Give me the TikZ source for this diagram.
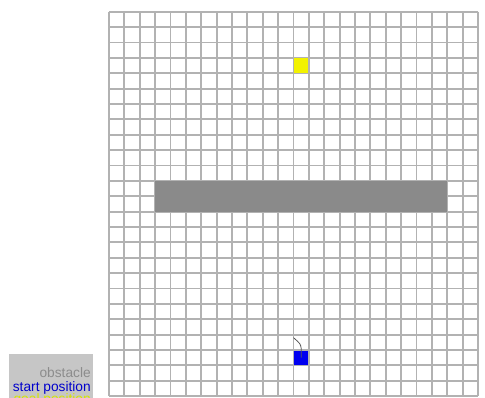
\documentclass[tikz,border=0pt]{standalone}
\usepackage{fontspec}
\setsansfont{Liberation Sans}
\usetikzlibrary{positioning}
\definecolor{gridgray}{HTML}{B2B2B2}
\definecolor{obstgray}{HTML}{8A8A8A}
\definecolor{boxgray}{HTML}{C6C6C6}
\definecolor{startblue}{HTML}{0000F0}
\definecolor{goalyellow}{HTML}{F2F200}
\definecolor{legyellow}{HTML}{D8E400}
\begin{document}
\begin{tikzpicture}[x=11.53pt,y=-11.53pt,
  cell/.style={inner sep=0pt,minimum size=10.6pt,draw=none},
  gridline/.style={gridgray,line width=1.4pt},
  legtext/.style={font=\sffamily\fontsize{10.3}{12}\selectfont,inner sep=0pt,anchor=base east}]
\useasboundingbox (-7.089,-0.761) rectangle (24.455,25.06);
\clip (-7.089,-0.761) rectangle (24.455,25.06);

\foreach \i in {0,...,24} \draw[gridline] (\i,0) -- (\i,25);
\foreach \j in {0,...,25} \draw[gridline] (0,\j) -- (24,\j);
\fill[obstgray] (3,11) rectangle (22,13);

\node[cell,fill=goalyellow] (goal) at (12.5,3.5) {};
\node[cell,fill=startblue] (start) at (12.5,22.5) {};
\coordinate (head) at (12.0,21.2);
\draw[black!65,line width=0.6pt] (start.center) -- (12.5,21.9) .. controls (12.45,21.6) .. (head);

\fill[boxgray] (-6.5,22.26) rectangle (-1.04,26);
\node[legtext,text=black!45] (lobst) at (-1.17,23.8) {obstacle};
\node[legtext,text=startblue!85!black] (lstart) at (-1.17,24.68) {start position};
\node[legtext,text=legyellow] (lgoal) at (-1.17,25.45) {goal position};
\end{tikzpicture}
\end{document}
